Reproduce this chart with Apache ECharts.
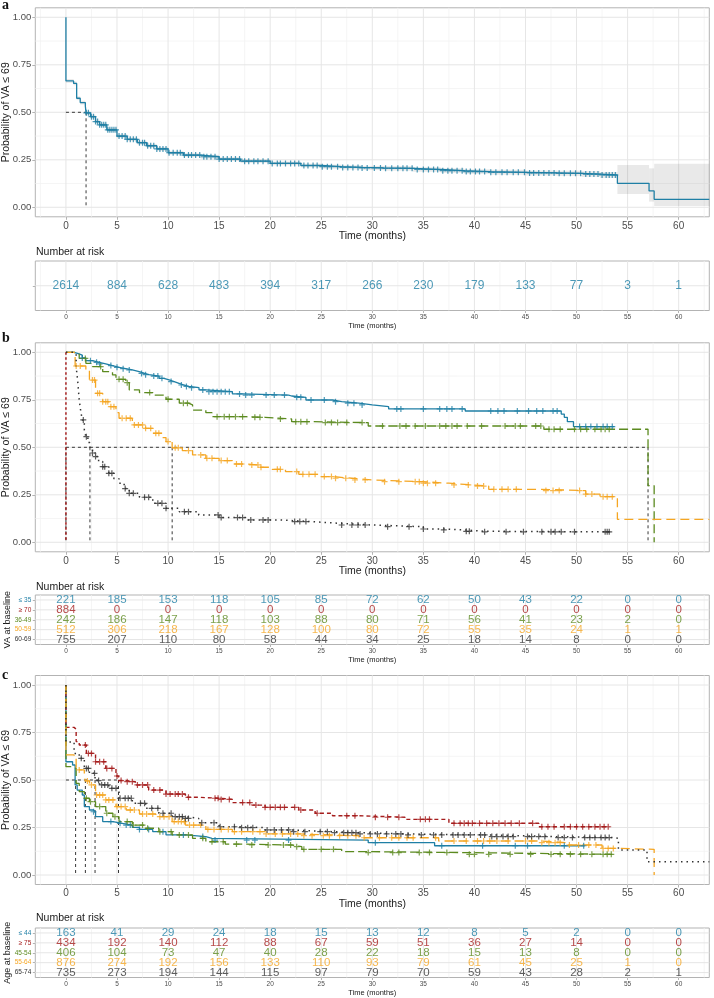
<!DOCTYPE html>
<html><head><meta charset="utf-8">
<script src="https://cdn.jsdelivr.net/npm/echarts@6/dist/echarts.min.js"></script>
<style>html,body{margin:0;padding:0;background:#fff}#c{width:714px;height:998px}</style>
</head><body><div id="c"></div>
<script>
// ================= DATA =================
const xTicks = [0,5,10,15,20,25,30,35,40,45,50,55,60];
const xMinor = [-2.5,2.5,7.5,12.5,17.5,22.5,27.5,32.5,37.5,42.5,47.5,52.5,57.5,62.5];
const yTicks = [0,0.25,0.5,0.75,1];
const yMinor = [0.125,0.375,0.625,0.875];
const riskTimes = [0,5,10,15,20,25,30,35,40,45,50,55,60];

// Panel a: overall KM
const aTimes = [0,0,0.75,1.05,1.4,1.9,1.97,2.4,2.9,3.3,4.0,5.0,6.0,7.0,7.9,8.9,10.0,11.5,13.2,15.0,17.1,20.0,23.0,25.0,27.0,29.0,31.1,34.0,36.7,39.0,41.6,45.0,48.1,50.5,52.3,54.0,57.1,57.6,63];
const aSurv  = [1.0,0.665,0.652,0.574,0.551,0.533,0.497,0.477,0.451,0.434,0.408,0.375,0.358,0.34,0.324,0.307,0.287,0.275,0.266,0.254,0.243,0.231,0.22,0.214,0.21,0.207,0.205,0.199,0.193,0.188,0.184,0.181,0.179,0.175,0.170,0.126,0.086,0.042,0.042];
const aLower = [1.0,0.655,0.642,0.564,0.541,0.523,0.487,0.467,0.441,0.424,0.398,0.365,0.348,0.330,0.314,0.297,0.277,0.265,0.256,0.244,0.233,0.221,0.210,0.203,0.199,0.196,0.193,0.187,0.181,0.176,0.171,0.168,0.165,0.160,0.154,0.070,0.030,0.007,0.007];
const aUpper = [1.0,0.675,0.662,0.584,0.561,0.543,0.507,0.487,0.461,0.444,0.418,0.385,0.368,0.350,0.334,0.317,0.297,0.285,0.276,0.264,0.253,0.241,0.230,0.225,0.221,0.218,0.217,0.211,0.205,0.200,0.197,0.194,0.193,0.190,0.186,0.223,0.205,0.229,0.229];
const aCensor = [2.0,2.2,2.5,2.7,2.9,3.1,3.3,3.5,3.7,3.9,4.1,4.3,4.5,4.7,4.9,5.2,5.5,5.8,6.0,6.3,6.6,6.9,7.2,7.5,7.7,8.0,8.3,8.6,8.9,9.2,9.5,9.8,10.1,10.5,10.9,11.2,11.6,12.0,12.3,12.7,13.1,13.5,13.8,14.2,14.6,15.0,15.4,15.8,16.2,16.6,17.0,17.5,17.9,18.4,18.8,19.3,19.8,20.2,20.7,21.0,21.5,22.0,22.4,22.8,23.3,23.7,24.2,24.6,25.1,25.6,26.0,26.6,27.1,27.6,28.1,28.6,29.0,29.5,30.2,30.8,31.3,31.9,32.5,33.0,33.4,33.9,34.4,35.0,35.5,36.0,36.4,36.9,37.4,37.8,38.3,38.8,39.2,39.6,40.1,40.5,41.0,41.6,42.1,42.7,43.2,43.8,44.3,44.9,45.4,45.8,46.3,46.8,47.3,47.8,48.3,48.8,49.4,49.9,50.4,50.9,51.3,51.7,52.1,52.5,52.9,53.2,53.5,53.8];
const aMedians = [1.97];
const aRisk = [2614,884,628,483,394,317,266,230,179,133,77,3,1];

// Panel b: VA at baseline
const bRowLabels = ['≤ 35','≥ 70','36-49','50-59','60-69'];
const bBlueT = [0,0.8,1.2,1.6,1.95,2.6,3.26,3.9,4.56,5.2,5.86,6.5,7.17,7.7,8.14,9.12,9.6,10.1,10.6,11.07,11.5,12.05,13.03,13.7,16.3,17.3,21.8,22.1,23.5,26.1,27.0,28.7,30.0,31.6,39.1,48.5,48.8,49.1,49.7,53.7];
const bBlueS = [1.0,0.993,0.985,0.97,0.956,0.947,0.939,0.93,0.921,0.914,0.907,0.898,0.889,0.882,0.875,0.863,0.855,0.846,0.837,0.828,0.82,0.814,0.802,0.793,0.781,0.775,0.770,0.763,0.749,0.740,0.732,0.723,0.714,0.702,0.691,0.675,0.658,0.635,0.609,0.609];
const bBlueC = [1.6,2.4,3.0,3.3,4.4,5.0,5.6,6.2,7.4,7.8,8.6,9.0,9.4,10.3,11.3,11.8,12.3,13.4,14.0,14.4,14.8,15.2,15.6,16.0,17.0,17.6,18.2,19.6,20.4,21.4,22.6,23.0,24.0,25.3,26.4,27.6,28.2,29.0,32.4,32.8,35.0,36.6,37.3,37.8,38.8,41.6,42.3,42.9,44.2,45.3,46.1,46.7,47.7,48.1,50.3,50.9,51.4,52.0,52.6,53.0,53.5];
const bRedT = [0,0];
const bRedS = [1.0,0.0];
const bGreenT = [0,0.8,1.3,1.95,2.6,3.6,4.56,4.9,5.86,6.2,7.2,8.5,9.8,11.1,12.0,12.4,13.7,14.3,17.6,19.5,22.1,24.0,29.6,46.8,57.0,57.6];
const bGreenS = [1.0,0.99,0.968,0.942,0.925,0.898,0.881,0.858,0.840,0.802,0.788,0.775,0.753,0.732,0.723,0.696,0.682,0.661,0.658,0.649,0.635,0.630,0.612,0.595,0.298,0.0];
const bGreenC = [1.9,3.4,5.2,5.6,6.0,8.2,10.0,11.5,11.9,14.8,15.5,16.0,16.6,17.3,18.5,19.0,21.0,22.5,23.0,23.6,25.4,26.0,26.6,27.5,29.0,31.0,32.7,33.3,34.2,35.2,36.6,37.2,37.8,38.3,39.3,40.7,43.0,44.0,44.5,46.0,46.5,47.3,47.8,48.4,49.8,50.4,51.0,51.8,52.4,52.8,53.2];
const bOrangeT = [0,0.9,1.95,2.3,2.9,3.6,4.2,4.9,5.2,6.5,7.8,8.5,9.4,9.8,10.4,11.4,12.4,13.7,15.0,16.3,17.6,18.9,20.2,21.5,22.8,24.8,26.1,28.0,30.0,34.9,37.5,39.8,41.4,46.3,50.9,52.3,54.0,63];
const bOrangeS = [1.0,0.928,0.907,0.854,0.784,0.740,0.714,0.682,0.653,0.618,0.600,0.574,0.551,0.530,0.497,0.482,0.460,0.442,0.430,0.412,0.407,0.395,0.384,0.372,0.358,0.346,0.337,0.328,0.319,0.311,0.302,0.296,0.279,0.272,0.254,0.240,0.121,0.121];
const bOrangeC = [1.0,1.4,2.6,2.8,3.1,3.3,3.6,3.9,4.1,4.4,4.7,5.5,5.9,6.3,6.7,7.1,7.5,7.8,8.3,8.8,9.1,10.0,10.7,11.0,12.0,13.2,13.8,14.3,15.2,15.8,16.7,17.2,18.2,18.8,19.1,20.7,21.0,22.6,23.2,23.8,24.4,25.3,26.0,26.4,27.4,28.3,29.3,31.2,32.6,34.2,34.6,35.0,35.4,36.2,38.0,39.4,40.3,40.9,41.9,42.7,43.3,44.1,47.0,47.7,48.3,50.3,50.9,51.5,52.6,53.0,53.5];
const bBlackT = [0,0.8,1.0,1.15,1.3,1.45,1.6,1.8,1.95,2.15,2.35,2.6,2.9,3.2,3.6,4.2,4.7,5.2,5.7,6.2,7.2,8.5,9.8,11.1,13.0,15.0,17.6,20.8,24.1,26.7,30.0,35.0,37.0,39.0,41.0,53.3];
const bBlackS = [1.0,0.99,0.925,0.85,0.749,0.69,0.644,0.59,0.556,0.525,0.497,0.47,0.451,0.425,0.398,0.363,0.335,0.311,0.283,0.258,0.237,0.205,0.179,0.161,0.144,0.130,0.118,0.109,0.100,0.091,0.082,0.070,0.065,0.058,0.055,0.055];
const bBlackC = [1.7,2.0,2.6,2.9,3.6,3.8,4.2,4.5,5.8,6.2,6.6,7.7,8.1,9.0,9.4,9.8,11.6,12.0,14.9,15.2,16.8,17.3,18.1,19.3,19.8,22.4,22.9,23.5,27.0,28.0,28.6,29.3,31.5,33.6,35.0,37.0,39.2,39.5,41.0,43.1,44.8,46.6,47.5,47.9,48.5,49.8,52.8,53.0,53.2];
const bMedians = [0,2.35,10.4,57.0];
const bRiskLe35 = [221,185,153,118,105,85,72,62,50,43,22,0,0];
const bRiskGe70 = [884,0,0,0,0,0,0,0,0,0,0,0,0];
const bRisk36to49 = [242,186,147,118,103,88,80,71,56,41,23,2,0];
const bRisk50to59 = [512,306,218,167,128,100,80,72,55,35,24,1,1];
const bRisk60to69 = [755,207,110,80,58,44,34,25,18,14,8,0,0];

// Panel c: Age at baseline
const cRowLabels = ['≤ 44','≥ 75','45-54','55-64','65-74'];
const cBlueT = [0,0,0.65,0.9,1.1,1.6,1.8,2.3,2.7,2.9,3.6,4.6,5.5,6.5,7.2,8.5,9.8,11.7,13.7,14.3,29.6,36.1,50.8];
const cBlueS = [1.0,0.596,0.579,0.474,0.447,0.421,0.360,0.342,0.333,0.307,0.281,0.272,0.263,0.251,0.240,0.228,0.211,0.202,0.193,0.184,0.170,0.154,0.154];
const cBlueC = [2.7,4.4,5.3,5.9,6.3,7.2,8.1,9.5,11.5,13.4,14.6,17.7,18.5,21.8,30.3,36.8,40.8,44.0,45.2,48.8,50.7];
const cRedT = [0,0,0.8,1.0,1.3,2.0,2.9,3.9,4.9,5.15,5.9,6.8,8.1,9.8,11.7,13.0,15.0,16.3,18.2,19.5,22.8,24.4,26.1,28.7,33.2,37.5,46.3,53.2];
const cRedS = [1.0,0.777,0.767,0.702,0.684,0.640,0.596,0.561,0.521,0.497,0.491,0.474,0.447,0.426,0.409,0.404,0.398,0.381,0.368,0.356,0.342,0.325,0.312,0.304,0.293,0.272,0.254,0.254];
const cRedC = [1.9,2.2,2.5,2.9,3.3,3.7,4.0,4.5,5.0,5.4,6.0,6.5,7.0,7.5,8.0,8.6,9.2,9.8,10.2,10.7,11.0,11.4,12.0,14.6,14.9,15.2,16.0,17.3,18.0,18.6,19.5,20.0,20.5,21.0,21.4,22.4,23.0,24.6,27.5,28.3,30.3,31.5,32.6,34.7,35.2,35.6,38.0,38.6,39.0,39.4,39.8,40.5,41.2,41.8,42.4,43.0,43.6,44.4,45.7,46.6,47.2,47.8,48.8,49.4,50.0,50.6,51.2,51.8,52.3,52.7,53.1];
const cGreenT = [0,0,0.65,1.0,1.3,1.8,2.3,2.9,3.9,4.6,5.2,6.5,7.8,9.1,10.4,12.4,13.7,15.6,16.9,22.1,23.1,27.0,29.6,39.1,53.5];
const cGreenS = [1.0,0.570,0.561,0.482,0.439,0.404,0.386,0.360,0.325,0.307,0.281,0.263,0.246,0.228,0.211,0.193,0.175,0.163,0.158,0.149,0.135,0.123,0.118,0.109,0.109];
const cGreenC = [2.0,2.4,3.3,4.0,4.8,6.0,6.6,7.5,8.0,9.2,10.3,11.1,12.0,13.4,14.3,15.4,16.7,18.2,19.8,21.3,22.0,22.6,23.3,25.0,26.2,29.6,32.0,32.6,34.6,35.6,37.3,39.5,40.0,41.4,43.5,45.5,47.5,48.4,49.4,50.4,51.5,52.6,53.0,53.4];
const cOrangeT = [0,0,0.8,1.0,1.8,1.9,2.3,2.9,3.9,4.9,5.9,7.2,8.8,10.4,11.7,13.7,16.3,19.5,22.8,28.7,36.5,46.3,49.2,52.5,54.1,57.6];
const cOrangeS = [1.0,0.632,0.619,0.553,0.518,0.495,0.474,0.421,0.395,0.360,0.342,0.321,0.307,0.281,0.263,0.240,0.228,0.216,0.207,0.196,0.179,0.170,0.158,0.140,0.135,0.0];
const cOrangeC = [1.3,2.1,2.5,3.0,3.3,3.6,3.9,4.2,4.6,5.0,5.4,5.8,6.3,6.7,7.5,7.9,8.5,9.2,9.6,10.1,10.6,11.0,11.3,11.6,12.1,12.5,13.2,13.9,14.5,15.2,15.9,16.5,17.2,18.3,19.0,19.6,20.5,21.2,22.0,22.7,23.3,24.1,25.2,25.8,26.8,27.6,28.4,29.2,30.7,31.9,32.6,33.4,34.0,36.2,38.0,39.2,40.3,40.9,41.5,42.2,43.3,45.0,45.6,46.6,47.3,47.9,48.4,49.3,50.2,51.2,51.9,52.6,53.1,53.6];
const cBlackT = [0,0,0.8,1.3,1.8,2.3,2.85,3.3,4.2,5.2,6.5,7.8,9.1,10.4,11.7,13.0,15.0,16.9,19.5,22.1,26.1,28.7,33.2,41.4,48.0,53.5,54.1,56.9,63];
const cBlackS = [1.0,0.70,0.64,0.614,0.561,0.535,0.497,0.474,0.456,0.404,0.377,0.351,0.325,0.307,0.298,0.275,0.254,0.249,0.237,0.228,0.223,0.216,0.211,0.202,0.197,0.193,0.132,0.070,0.070];
const cBlackC = [1.5,2.0,2.2,2.8,3.2,3.5,3.8,4.1,4.5,4.9,5.3,5.8,6.1,6.4,7.3,7.7,8.4,9.0,9.5,10.3,10.7,11.1,11.4,11.7,12.0,13.3,14.5,15.1,16.5,17.2,17.8,18.3,19.7,20.4,21.1,21.8,22.3,23.4,24.9,25.6,26.3,27.2,27.6,28.0,28.4,28.8,29.8,30.5,31.4,32.3,32.8,33.5,34.8,36.0,36.8,37.9,38.4,39.0,39.6,40.6,41.0,41.7,42.2,42.8,43.3,43.8,45.2,45.6,46.3,46.9,48.2,48.8,49.6,50.8,51.3,51.8,52.4,52.8,53.2];
const cMedians = [0.95,1.9,2.85,5.15];
const cRiskLe44 = [163,41,29,24,18,15,13,12,8,5,2,0,0];
const cRiskGe75 = [434,192,140,112,88,67,59,51,36,27,14,0,0];
const cRisk45to54 = [406,104,73,47,40,28,22,18,15,13,8,0,0];
const cRisk55to64 = [876,274,192,156,133,110,93,79,61,45,25,1,0];
const cRisk65to74 = [735,273,194,144,115,97,79,70,59,43,28,2,1];

// ================= STYLE =================
const FONT = "'Liberation Sans', Arial, sans-serif";
const COL = {blue:'#1f7fa5', red:'#a51d1d', green:'#5b8a1f', orange:'#f5a623', black:'#333333'};
const DASH = {blue:'solid', red:[4,3], green:[9,4], orange:[9,5], black:[1.5,4]};
const CROSS = 'path://M4,0H6V4H10V6H6V10H4V6H0V4H4Z';
const LEFT = 35.3, WIDTH = 674;
const PLOT_H = 209;
const plotTops = [7.8, 342.8, 675.5];
const riskTops = [261, 595, 928];
const RISK_H = 49.5;

function stepAt(T,S,t){ let v=S[0]; for(let i=0;i<T.length;i++){ if(T[i]<=t) v=S[i]; else break; } return v; }

const grids=[], xAxes=[], yAxes=[], series=[];
function gridBase(top,h){ return {left:LEFT, top:top, width:WIDTH, height:h, show:true, borderColor:'#b3b3b3', borderWidth:1, backgroundColor:'#fff', containLabel:false, outerBoundsMode:'none'}; }

const AXLINE = {show:false, onZero:false};
function plotXAxis(gi){ return {type:'value', gridIndex:gi, min:-3, max:63, position:'bottom',
  axisLine:AXLINE, splitLine:{show:false},
  axisTick:{show:true, customValues:xTicks, length:3, lineStyle:{color:'#b3b3b3'}},
  axisLabel:{customValues:xTicks, fontSize:10, color:'#4d4d4d', margin:4, fontFamily:FONT},
  name:'Time (months)', nameLocation:'middle', nameGap:14, nameMoveOverlap:false, nameTextStyle:{fontSize:10.5, color:'#1a1a1a', fontFamily:FONT}}; }
function riskXAxis(gi){ return {type:'value', gridIndex:gi, min:-3, max:63, position:'bottom',
  axisLine:AXLINE, splitLine:{show:false},
  axisTick:{show:true, customValues:xTicks, length:2.5, lineStyle:{color:'#b3b3b3'}},
  axisLabel:{customValues:xTicks, fontSize:6.5, color:'#4d4d4d', margin:3.5, fontFamily:FONT},
  name:'Time (months)', nameLocation:'middle', nameGap:11, nameMoveOverlap:false, nameTextStyle:{fontSize:7.5, color:'#1a1a1a', fontFamily:FONT}}; }
function plotYAxis(gi){ return {type:'value', gridIndex:gi, min:-0.05, max:1.05, position:'left',
  axisLine:AXLINE, splitLine:{show:false},
  axisTick:{show:true, customValues:yTicks, length:3, lineStyle:{color:'#b3b3b3'}},
  axisLabel:{customValues:yTicks, formatter:v=>Number(v).toFixed(2), fontSize:9.5, color:'#4d4d4d', margin:4, fontFamily:FONT},
  name:'Probability of VA ≤ 69', nameLocation:'middle', nameRotate:90, nameGap:24, nameMoveOverlap:false, nameTextStyle:{fontSize:10.5, color:'#1a1a1a', fontFamily:FONT}}; }
function riskYAxis(gi, labels, colors, title){
  const n = labels ? labels.length : 1;
  const vals = []; for(let i=1;i<=n;i++) vals.push(i);
  return {type:'value', gridIndex:gi, min:0.5, max:n+0.5, inverse:true, position:'left',
    axisLine:AXLINE, splitLine:{show:false},
    axisTick:{show:true, customValues:vals, length:2.5, lineStyle:{color:'#b3b3b3'}},
    axisLabel:{show:!!labels, customValues:vals, formatter:v=>labels?labels[Math.round(v)-1]:'',
      color:(v)=>colors?colors[Math.round(v)-1]:'#333', fontSize:6.5, margin:4, fontFamily:FONT},
    name:title||'', nameLocation:'middle', nameRotate:90, nameGap:23, nameMoveOverlap:false,
    nameTextStyle:{fontSize:9, color:'#1a1a1a', fontFamily:FONT}};
}

function vLines(gi, vals, color, w){ return {type:'custom', xAxisIndex:gi, yAxisIndex:gi, z:1, silent:true,
  data: vals.map(v=>[v,1]),
  renderItem:(params, api)=>{ const cs=params.coordSys; const x=api.coord([api.value(0),1])[0];
    return {type:'line', shape:{x1:x,y1:cs.y,x2:x,y2:cs.y+cs.height}, style:{stroke:color, lineWidth:w}}; }}; }
function hLines(gi, vals, color, w){ return {type:'custom', xAxisIndex:gi, yAxisIndex:gi, z:1, silent:true,
  data: vals.map(v=>[0,v]),
  renderItem:(params, api)=>{ const cs=params.coordSys; const y=api.coord([0,api.value(1)])[1];
    return {type:'line', shape:{x1:cs.x,y1:y,x2:cs.x+cs.width,y2:y}, style:{stroke:color, lineWidth:w}}; }}; }
function gridLines(gi, yMaj, yMin){
  series.push(vLines(gi, xMinor, '#f3f3f3', 0.8));
  if (yMin) series.push(hLines(gi, yMin, '#f3f3f3', 0.8));
  series.push(vLines(gi, xTicks, '#e6e6e6', 1));
  series.push(hLines(gi, yMaj, '#e6e6e6', 1));
}
function curve(gi, T, S, color, dash, w){ return {type:'line', xAxisIndex:gi, yAxisIndex:gi, step:'end', showSymbol:false, symbol:'none', silent:true, z:3,
  data:T.map((t,i)=>[t,S[i]]), lineStyle:{color:color, width:w||1.3, type:dash}}; }
function censors(gi, T, S, C, color){ return {type:'scatter', xAxisIndex:gi, yAxisIndex:gi, symbol:CROSS, symbolSize:6, silent:true, z:4,
  data:C.map(t=>[t, stepAt(T,S,t)]), itemStyle:{color:color}}; }
function segs(gi, data, color, w, dash){ return {type:'custom', xAxisIndex:gi, yAxisIndex:gi, z:3, silent:true, data:data,
  renderItem:(p,api)=>{ const a=api.coord([api.value(0),api.value(1)]), b=api.coord([api.value(2),api.value(3)]);
    return {type:'line', shape:{x1:a[0],y1:a[1],x2:b[0],y2:b[1]}, style:{stroke:color, lineWidth:w, lineDash:dash}}; }}; }
function medianSegs(meds){ const m=Math.max(...meds); const out=[[0,0.5,m,0.5]]; meds.forEach(t=>out.push([t,0.5,t,0])); return out; }
function band(gi, T, lo, hi){ const d=[]; for(let i=0;i<T.length-1;i++) d.push([T[i],T[i+1],lo[i],hi[i]]);
  return {type:'custom', xAxisIndex:gi, yAxisIndex:gi, z:2, silent:true, data:d,
    renderItem:(p,api)=>{ const a=api.coord([api.value(0),api.value(3)]), b=api.coord([api.value(1),api.value(2)]);
      return {type:'rect', shape:{x:a[0], y:a[1], width:Math.max(0,b[0]-a[0]), height:Math.max(0,b[1]-a[1])}, style:{fill:'rgba(0,0,0,0.085)'}}; }}; }
function riskRow(gi, row, counts, color, fs){ return {type:'scatter', xAxisIndex:gi, yAxisIndex:gi, symbolSize:1, silent:true, z:4,
  itemStyle:{color:'rgba(0,0,0,0)'}, data:riskTimes.map((t,i)=>[t,row,counts[i]]),
  label:{show:true, position:'inside', formatter:p=>String(p.value[2]), color:color, fontSize:fs, fontFamily:FONT}}; }

// ---- panel a ----
grids.push(gridBase(plotTops[0],PLOT_H)); xAxes.push(plotXAxis(0)); yAxes.push(plotYAxis(0));
grids.push(gridBase(riskTops[0],RISK_H)); xAxes.push(riskXAxis(1)); yAxes.push(riskYAxis(1,null,null,''));
gridLines(0, yTicks, yMinor);
series.push(band(0, aTimes, aLower, aUpper));
series.push(segs(0, medianSegs(aMedians), '#222', 0.9, [3,3]));
series.push(curve(0, aTimes, aSurv, COL.blue, 'solid', 1.3));
series.push(censors(0, aTimes, aSurv, aCensor, COL.blue));
gridLines(1, [1], null);
series.push(riskRow(1, 1, aRisk, COL.blue, 12));

// ---- panel b ----
const bColors=[COL.blue,COL.red,COL.green,COL.orange,COL.black];
grids.push(gridBase(plotTops[1],PLOT_H)); xAxes.push(plotXAxis(2)); yAxes.push(plotYAxis(2));
grids.push(gridBase(riskTops[1],RISK_H)); xAxes.push(riskXAxis(3)); yAxes.push(riskYAxis(3,bRowLabels,bColors,'VA at baseline'));
gridLines(2, yTicks, yMinor);
series.push(segs(2, medianSegs(bMedians), '#222', 0.9, [3,3]));
series.push(curve(2, bBlueT, bBlueS, COL.blue, DASH.blue));
series.push(censors(2, bBlueT, bBlueS, bBlueC, COL.blue));
series.push(curve(2, bRedT, bRedS, COL.red, [2.5,2.5], 1.5));
series.push(curve(2, bGreenT, bGreenS, COL.green, DASH.green));
series.push(censors(2, bGreenT, bGreenS, bGreenC, COL.green));
series.push(curve(2, bOrangeT, bOrangeS, COL.orange, DASH.orange));
series.push(censors(2, bOrangeT, bOrangeS, bOrangeC, COL.orange));
series.push(curve(2, bBlackT, bBlackS, COL.black, DASH.black, 1.5));
series.push(censors(2, bBlackT, bBlackS, bBlackC, COL.black));
gridLines(3, [1,2,3,4,5], null);
[bRiskLe35,bRiskGe70,bRisk36to49,bRisk50to59,bRisk60to69].forEach((arr,i)=>series.push(riskRow(3, i+1, arr, bColors[i], 11.5)));

// ---- panel c ----
const cColors=[COL.blue,COL.red,COL.green,COL.orange,COL.black];
grids.push(gridBase(plotTops[2],PLOT_H)); xAxes.push(plotXAxis(4)); yAxes.push(plotYAxis(4));
grids.push(gridBase(riskTops[2],RISK_H)); xAxes.push(riskXAxis(5)); yAxes.push(riskYAxis(5,cRowLabels,cColors,'Age at baseline'));
gridLines(4, yTicks, yMinor);
series.push(segs(4, medianSegs(cMedians), '#222', 0.9, [3,3]));
series.push(curve(4, cBlueT, cBlueS, COL.blue, DASH.blue));
series.push(censors(4, cBlueT, cBlueS, cBlueC, COL.blue));
series.push(curve(4, cRedT, cRedS, COL.red, DASH.red, 1.4));
series.push(censors(4, cRedT, cRedS, cRedC, COL.red));
series.push(curve(4, cGreenT, cGreenS, COL.green, DASH.green));
series.push(censors(4, cGreenT, cGreenS, cGreenC, COL.green));
series.push(curve(4, cOrangeT, cOrangeS, COL.orange, DASH.orange));
series.push(censors(4, cOrangeT, cOrangeS, cOrangeC, COL.orange));
series.push(curve(4, cBlackT, cBlackS, COL.black, DASH.black, 1.5));
series.push(censors(4, cBlackT, cBlackS, cBlackC, COL.black));
gridLines(5, [1,2,3,4,5], null);
[cRiskLe44,cRiskGe75,cRisk45to54,cRisk55to64,cRisk65to74].forEach((arr,i)=>series.push(riskRow(5, i+1, arr, cColors[i], 11.5)));

const letterFont = "bold 14px 'Liberation Serif', 'DejaVu Serif', serif";
const nrFont = "10.5px " + FONT;
const option = {
  animation:false,
  textStyle:{fontFamily:FONT},
  grid:grids, xAxis:xAxes, yAxis:yAxes, series:series,
  graphic:[
    {type:'text', x:2, y:5, style:{text:'a', font:letterFont, fill:'#111', verticalAlign:'middle'}},
    {type:'text', x:2, y:338, style:{text:'b', font:letterFont, fill:'#111', verticalAlign:'middle'}},
    {type:'text', x:2, y:675, style:{text:'c', font:letterFont, fill:'#111', verticalAlign:'middle'}},
    {type:'text', x:36, y:252, style:{text:'Number at risk', font:nrFont, fill:'#1a1a1a', verticalAlign:'middle'}},
    {type:'text', x:36, y:587, style:{text:'Number at risk', font:nrFont, fill:'#1a1a1a', verticalAlign:'middle'}},
    {type:'text', x:36, y:918, style:{text:'Number at risk', font:nrFont, fill:'#1a1a1a', verticalAlign:'middle'}}
  ]
};
const chart = echarts.init(document.getElementById('c'), null, {renderer:'canvas'});
chart.setOption(option);
</script>
</body></html>
